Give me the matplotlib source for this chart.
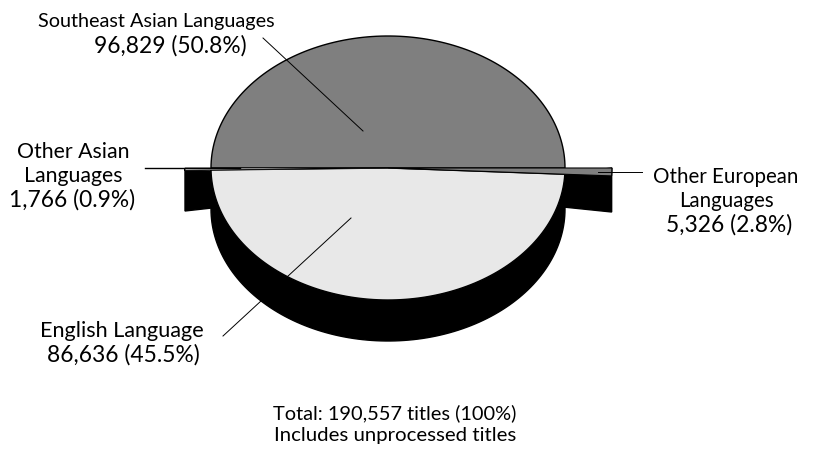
import numpy as np
import matplotlib
matplotlib.use("Agg")
import matplotlib.pyplot as plt
from matplotlib.patches import Polygon

labels = ["Southeast Asian Languages", "Other European\nLanguages", "English Language", "Other Asian\nLanguages"]
titles = [96829, 5326, 86636, 1766]
shares = [50.8, 2.8, 45.5, 0.9]
colors = ["#7f7f7f", "#7f7f7f", "#e8e8e8", "#e8e8e8"]
total_lines = ["Total: 190,557 titles (100%)", "Includes unprocessed titles"]
plt.rcParams['font.family'] = ['Lato', 'DejaVu Sans']

W, H = 817, 452
fig = plt.figure(figsize=(W/100, H/100), dpi=100)
ax = fig.add_axes([0, 0, 1, 1])
ax.set_xlim(0, W); ax.set_ylim(H, 0); ax.axis("off")

CX, CY, RX, RY, DEPTH = 388, 169, 177, 132, 41
EXPL_R = 1.265
EXPL_L = 1.147

def arc(a0, a1, r=1.0, dy=0, n=120):
    t = np.radians(np.linspace(a0, a1, n))
    return np.c_[CX + RX*r*np.cos(t), CY + RY*r*np.sin(t) + dy]

# sweep of the thin exploded slices is drawn compressed, as in the source picture
eu_sweep = shares[1]*0.97
as_sweep = shares[3]*0.97

# main extrusion
ax.add_patch(Polygon(np.r_[arc(0, 180), arc(180, 0, dy=DEPTH)], fc="k", ec="k", lw=1, zorder=1))

# exploded slice sides
er = arc(0, eu_sweep, EXPL_R, n=5)
ax.add_patch(Polygon([er[0], er[-1], (er[-1][0], 213), (563, 208), (563, 175)], fc="k", ec="k", lw=1, zorder=1))
el = arc(180-as_sweep, 180, EXPL_L, n=5)
ax.add_patch(Polygon([el[-1], el[0], (212, 172), (212, 209), (el[0][0], 212)], fc="k", ec="k", lw=1, zorder=1))

# top faces
ax.add_patch(Polygon(np.r_[[[CX, CY]], arc(180, 360)], fc=colors[0], ec="k", lw=1.0, zorder=3))
ax.add_patch(Polygon(np.r_[[[CX, CY]], arc(eu_sweep, 180-as_sweep)], fc=colors[2], ec="k", lw=1.0, zorder=3))
ax.add_patch(Polygon(np.r_[[[CX, CY]], arc(0, eu_sweep, EXPL_R, n=10)], fc=colors[1], ec="k", lw=0.8, zorder=4))
ax.add_patch(Polygon(np.r_[[[CX, CY]], arc(180-as_sweep, 180, EXPL_L, n=10)], fc=colors[3], ec="k", lw=0.6, zorder=4))

# leader lines
ax.plot([263, 363], [39, 132], color="k", lw=0.7, zorder=5)
ax.plot([145, 240], [169, 169], color="k", lw=1.0, zorder=5)
ax.plot([598, 642], [173, 173], color="k", lw=0.7, zorder=5)
ax.plot([223, 351], [337, 219], color="k", lw=0.7, zorder=5)

def put(x, y, s, fs=14.6):
    ax.text(x, y, s, ha="center", va="center", fontsize=fs, color="k", zorder=6)

def lab(i, x, y0, fs, num_x=None):
    names = labels[i].split("\n")
    for k, name in enumerate(names):
        put(x, y0 + 24.5*k, name, fs)
    put(num_x or x, y0 + 24.5*len(names) - 1, f"{titles[i]:,} ({shares[i]}%)", 16.4)

lab(0, 156, 22, 14.3, num_x=170)
lab(1, 726, 177, 14.8, num_x=729)
lab(2, 122, 331, 15.6, num_x=123)
lab(3, 73, 152, 15.3, num_x=72)
put(395, 413, total_lines[0], 14.4)
put(395, 436, total_lines[1], 14.7)
fig.savefig("out.png", dpi=100)
